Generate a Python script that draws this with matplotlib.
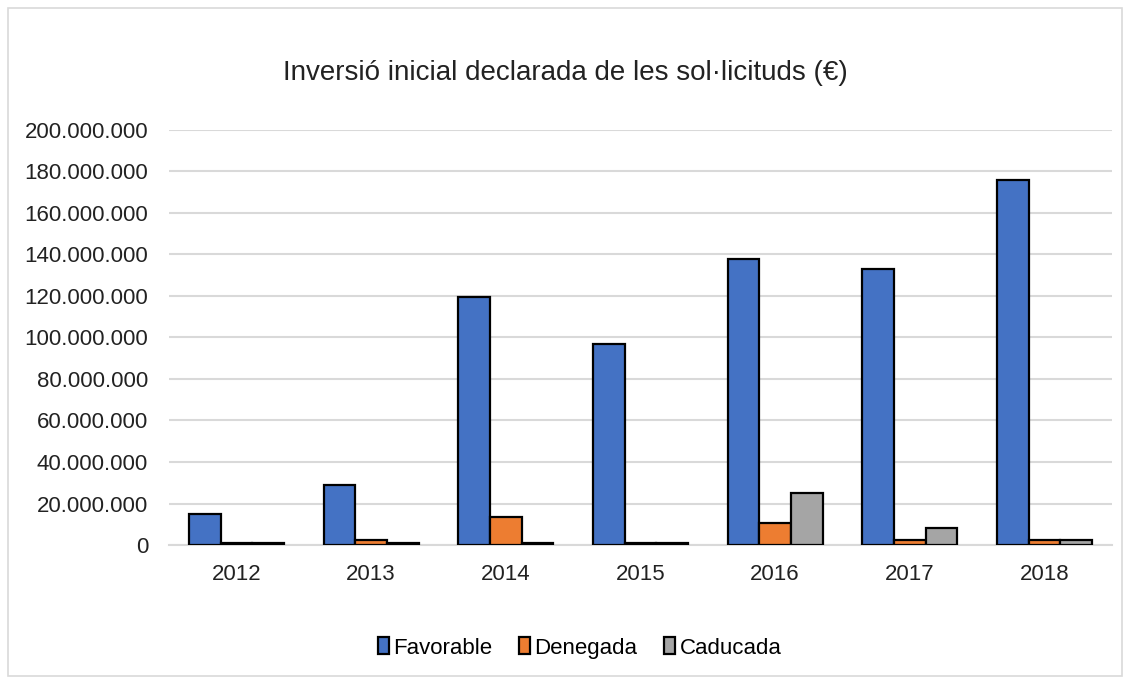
import matplotlib.pyplot as plt
import numpy as np
from matplotlib.patches import Rectangle
from matplotlib.ticker import FuncFormatter, MultipleLocator

anys = ["2012", "2013", "2014", "2015", "2016", "2017", "2018"]
favorable = [14.8e6, 29.0e6, 119.3e6, 97.0e6, 137.8e6, 132.8e6, 175.8e6]
denegada = [1.0e6, 2.6e6, 13.3e6, 1.0e6, 10.8e6, 2.6e6, 2.6e6]
caducada = [1.0e6, 1.0e6, 1.0e6, 1.0e6, 25.2e6, 8.3e6, 2.6e6]

plt.rcParams["font.family"] = ["Liberation Sans Narrow", "Liberation Sans", "DejaVu Sans"]

fig = plt.figure(figsize=(11.3, 6.84), dpi=100)
ax = fig.add_axes([0.1496, 0.2032, 0.8344, 0.6068])

# marc gris al voltant del gràfic
fig.patches.append(Rectangle((8 / 1130, 8 / 684), 1114 / 1130, 668 / 684,
                             transform=fig.transFigure, fill=False,
                             edgecolor="#d9d9d9", linewidth=1.2))

x = np.arange(len(anys))
w = 0.235
series = [
    ("Favorable", favorable, "#4472c4"),
    ("Denegada", denegada, "#ed7d31"),
    ("Caducada", caducada, "#a5a5a5"),
]
for i, (nom, vals, color) in enumerate(series):
    ax.bar(x + (i - 1) * w, vals, w, color=color, edgecolor="black",
           linewidth=1.6, label=nom, zorder=3)

ax.set_xlim(-0.5, len(anys) - 0.5)
ax.set_ylim(0, 200e6)
ax.yaxis.set_major_locator(MultipleLocator(20e6))
ax.yaxis.set_major_formatter(FuncFormatter(lambda v, p: f"{int(v):,}".replace(",", ".")))
ax.set_xticks(x)
ax.set_xticklabels(anys)
ax.tick_params(axis="both", length=0, labelsize=16, colors="#222222")
ax.tick_params(axis="y", pad=15)
ax.tick_params(axis="x", pad=14)
ax.grid(axis="y", color="#d9d9d9", linewidth=1.5, zorder=0)
for s in ["top", "right", "left"]:
    ax.spines[s].set_visible(False)
ax.spines["bottom"].set_color("#d9d9d9")
ax.spines["bottom"].set_linewidth(1.5)

fig.text(0.5, 1 - 73 / 684, "Inversió inicial declarada de les sol·licituds (€)",
         ha="center", va="center", fontsize=20, color="#222222")

leg = fig.legend(loc="center", bbox_to_anchor=(0.513, 1 - 648 / 684), ncol=3,
                 frameon=False, fontsize=16, handlelength=0.5, handleheight=0.8,
                 handletextpad=0.2, columnspacing=1.2)

fig.savefig("out.png", dpi=100)
